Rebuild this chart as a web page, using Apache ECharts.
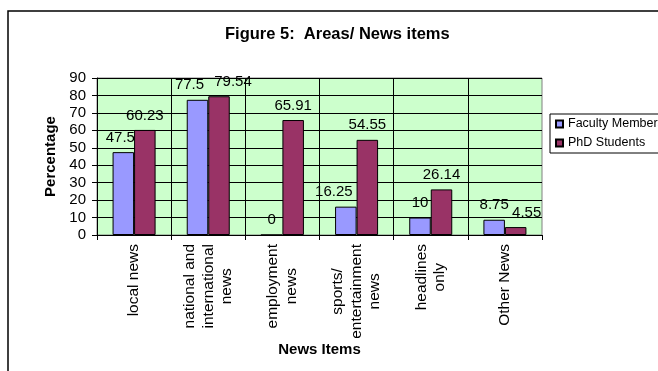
<!DOCTYPE html>
<html>
<head>
<meta charset="utf-8">
<title>Figure 5: Areas/ News items</title>
<script src="https://cdn.jsdelivr.net/npm/echarts@6/dist/echarts.min.js"></script>
<style>
  html, body { margin: 0; padding: 0; background: #fff; }
  #chart { width: 658px; height: 371px; }
</style>
</head>
<body>
<div id="chart"></div>
<script>
// News item categories (line breaks as shown under the axis)
const categories = [
  'local news',
  'national and\ninternational\nnews',
  'employment\nnews',
  'sports/\nentertainment\nnews',
  'headlines\nonly',
  'Other News'
];

// Percentage of respondents per news item
const facultyMembers = [47.5, 77.5, 0, 16.25, 10, 8.75];
const phdStudents = [60.23, 79.54, 65.91, 54.55, 26.14, 4.55];

// Value axis ticks
const yTicks = [0, 10, 20, 30, 40, 50, 60, 70, 80, 90];

const FONT = '"Liberation Sans", Arial, sans-serif';

// Horizontal nudges for value labels that would otherwise collide
const facultyLabelShift = [-3, -8, 0, -12, 0, 0];
const phdLabelShift = [0, 14, 0, 0, 0, 11];

function withShift(values, shifts) {
  return values.map((v, i) => ({
    value: v,
    label: { offset: [shifts[i], 0] }
  }));
}

const chart = echarts.init(document.getElementById('chart'), null, { renderer: 'canvas' });

chart.setOption({
  animation: false,
  backgroundColor: '#ffffff',
  title: {
    text: 'Figure 5:  Areas/ News items',
    left: 225,
    top: 26,
    padding: 0,
    textStyle: { fontFamily: FONT, fontSize: 16.5, fontWeight: 'bold', color: '#000' }
  },
  graphic: [{
    type: 'rect',
    z: 100,
    silent: true,
    shape: { x: 8, y: 11, width: 720, height: 420 },
    style: { fill: 'none', stroke: '#000', lineWidth: 1.5 }
  }],
  legend: {
    orient: 'vertical',
    left: 550,
    top: 114,
    padding: [3, 8, 3, 5],
    itemWidth: 7,
    itemHeight: 7,
    itemGap: 5,
    borderColor: '#000',
    borderWidth: 1,
    icon: 'rect',
    textStyle: { fontFamily: FONT, fontSize: 12.5, color: '#000', lineHeight: 14 },
    data: ['Faculty Members', 'PhD Students']
  },
  grid: {
    left: 97,
    right: 116,
    top: 78,
    bottom: 136,
    show: true,
    backgroundColor: '#CCFFCC',
    borderColor: '#808080',
    borderWidth: 1,
    containLabel: false
  },
  xAxis: {
    type: 'category',
    data: categories,
    name: 'News Items',
    nameLocation: 'middle',
    nameGap: 105,
    nameTextStyle: { fontFamily: FONT, fontSize: 15, fontWeight: 'bold', color: '#000' },
    axisLine: { lineStyle: { color: '#000', width: 1 } },
    axisTick: { show: true, length: 5, lineStyle: { color: '#000' } },
    splitLine: { show: true, showMaxLine: false, lineStyle: { color: '#000', width: 1 } },
    axisLabel: {
      interval: 0,
      rotate: 90,
      margin: 9,
      color: '#000',
      fontFamily: FONT,
      fontSize: 15.5,
      lineHeight: 18.5,
      formatter: v => v.split('\n').map(line => '{c|' + line + '}').join('\n'),
      rich: {
        c: { align: 'center', fontFamily: FONT, fontSize: 15.5, lineHeight: 18.5, color: '#000' }
      }
    }
  },
  yAxis: {
    type: 'value',
    min: yTicks[0],
    max: yTicks[yTicks.length - 1],
    interval: yTicks[1] - yTicks[0],
    name: 'Percentage',
    nameLocation: 'middle',
    nameRotate: 90,
    nameGap: 38,
    nameTextStyle: { fontFamily: FONT, fontSize: 15, fontWeight: 'bold', color: '#000' },
    axisLine: { show: true, lineStyle: { color: '#000', width: 1 } },
    axisTick: { show: true, length: 5, lineStyle: { color: '#000' } },
    splitLine: { show: true, lineStyle: { color: '#000', width: 1 } },
    axisLabel: { margin: 11, color: '#000', fontFamily: FONT, fontSize: 15 }
  },
  series: [
    {
      name: 'Faculty Members',
      type: 'bar',
      data: withShift(facultyMembers, facultyLabelShift),
      barGap: '0%',
      barCategoryGap: '42%',
      itemStyle: { color: '#9999FF', borderColor: '#000', borderWidth: 1 },
      label: { show: true, position: 'top', distance: 7, color: '#000', fontFamily: FONT, fontSize: 15 }
    },
    {
      name: 'PhD Students',
      type: 'bar',
      data: withShift(phdStudents, phdLabelShift),
      barGap: '0%',
      barCategoryGap: '42%',
      itemStyle: { color: '#993366', borderColor: '#000', borderWidth: 1 },
      label: { show: true, position: 'top', distance: 7, color: '#000', fontFamily: FONT, fontSize: 15 }
    }
  ]
});
</script>
</body>
</html>
